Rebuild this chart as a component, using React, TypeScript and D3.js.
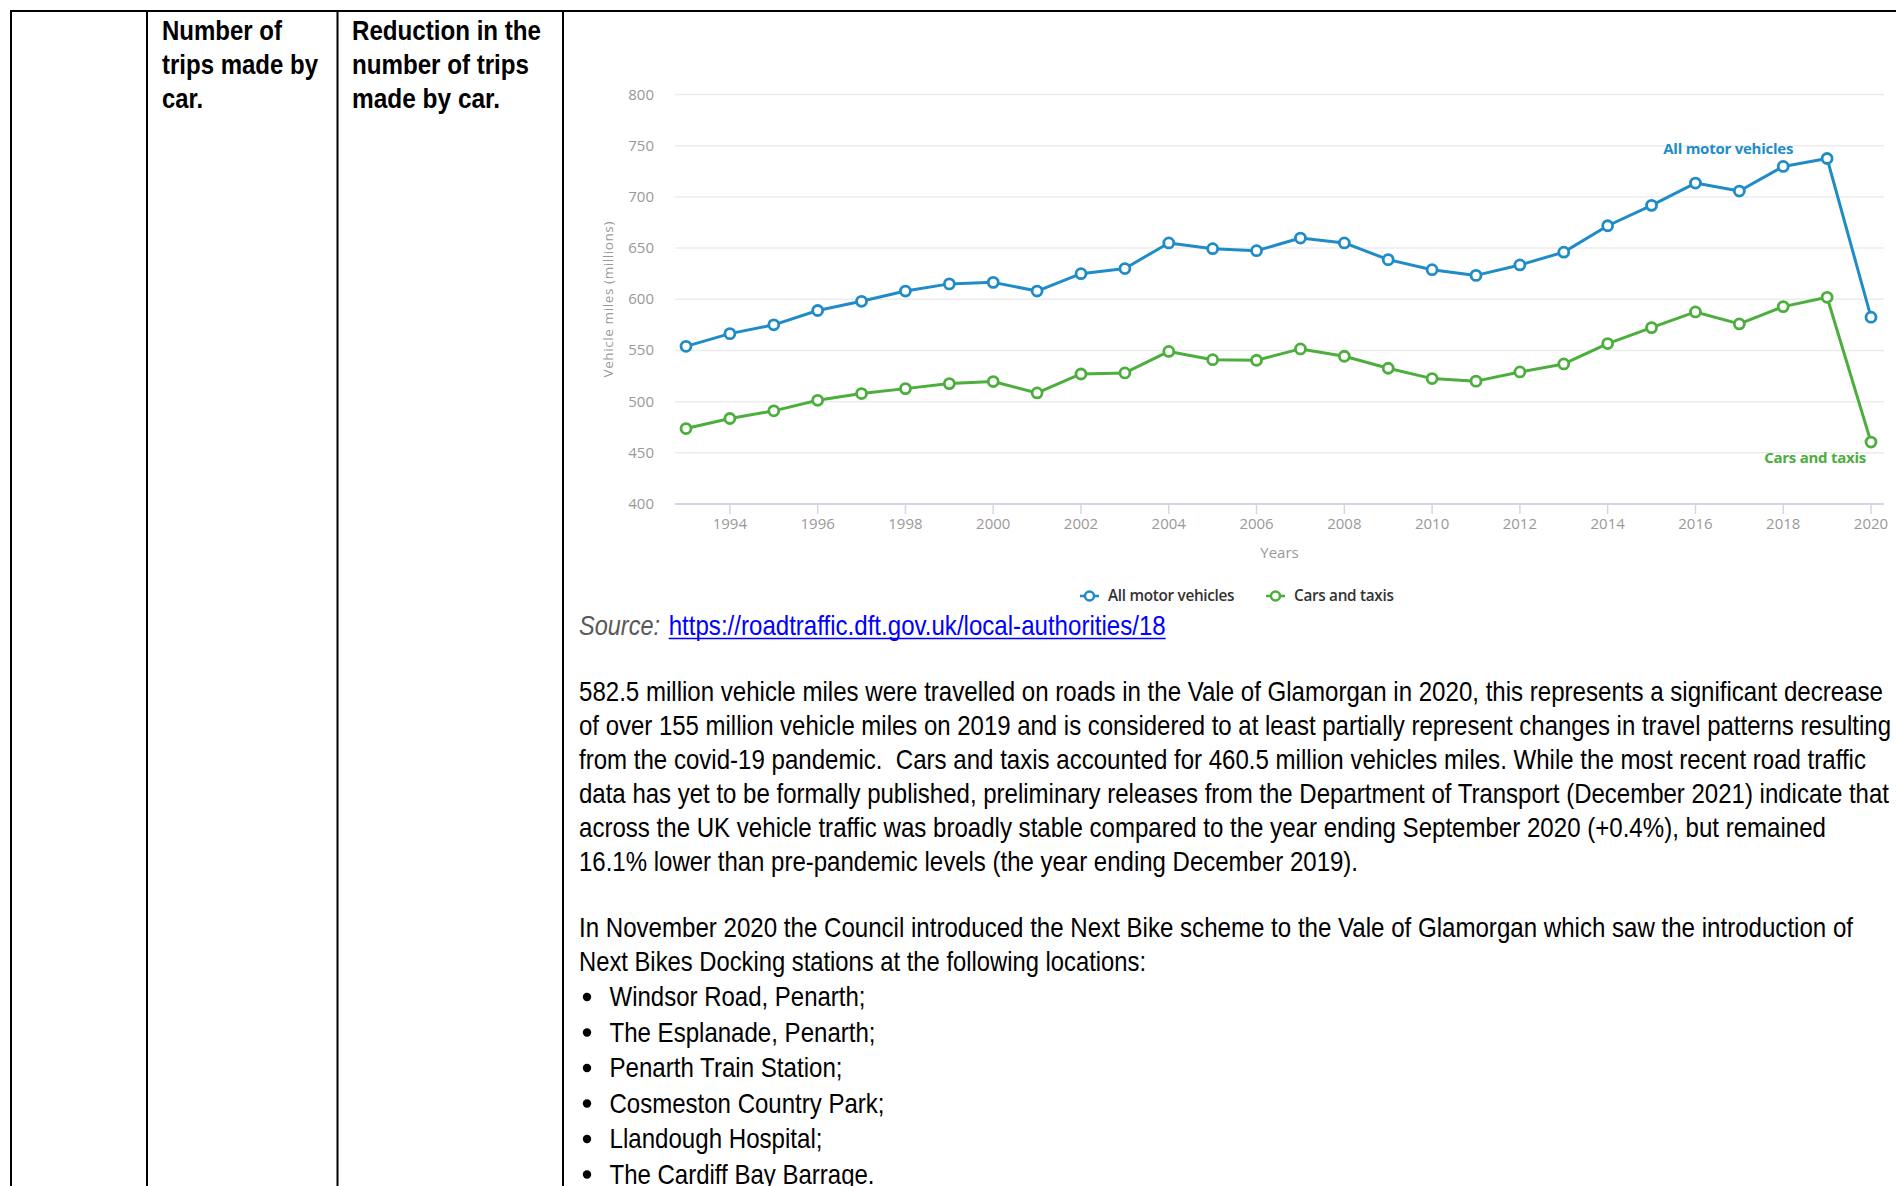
import React from 'react';
import * as d3 from 'd3';

// chart data (Vale of Glamorgan)
const years = [1993, 1994, 1995, 1996, 1997, 1998, 1999, 2000, 2001, 2002, 2003, 2004, 2005, 2006,
  2007, 2008, 2009, 2010, 2011, 2012, 2013, 2014, 2015, 2016, 2017, 2018, 2019, 2020];
const allMotorVehicles = [554, 566.4, 575, 589, 598, 608, 615, 616.5, 608, 625, 630, 655, 649.4, 647.4,
  659.8, 655, 638.7, 628.9, 623.3, 633.5, 646, 671.8, 691.7, 713.5, 705.7, 729.7, 737.5, 582.5];
const carsAndTaxis = [473.7, 483.5, 491, 501.3, 507.9, 512.7, 517.6, 519.6, 508.5, 527, 528, 549, 541, 540.4,
  551.5, 544.3, 532.6, 522.5, 520, 529, 536.8, 556.7, 572.3, 587.6, 575.9, 592.8, 601.9, 460.5];
const yTicks = [400, 450, 500, 550, 600, 650, 700, 750, 800];
const xTicks = [1994, 1996, 1998, 2000, 2002, 2004, 2006, 2008, 2010, 2012, 2014, 2016, 2018, 2020];
const seriesNames = ['All motor vehicles', 'Cars and taxis'];
const seriesColors = ['#1f8cc8', '#4cae3c'];

const headerCol2 = ['Number of', 'trips made by', 'car.'];
const headerCol3 = ['Reduction in the', 'number of trips', 'made by car.'];
const para1 = [
  '582.5 million vehicle miles were travelled on roads in the Vale of Glamorgan in 2020, this represents a significant decrease',
  'of over 155 million vehicle miles on 2019 and is considered to at least partially represent changes in travel patterns resulting',
  'from the covid-19 pandemic.  Cars and taxis accounted for 460.5 million vehicles miles. While the most recent road traffic',
  'data has yet to be formally published, preliminary releases from the Department of Transport (December 2021) indicate that',
  'across the UK vehicle traffic was broadly stable compared to the year ending September 2020 (+0.4%), but remained',
  '16.1% lower than pre-pandemic levels (the year ending December 2019).',
];
const para2 = [
  'In November 2020 the Council introduced the Next Bike scheme to the Vale of Glamorgan which saw the introduction of',
  'Next Bikes Docking stations at the following locations:',
];
const bullets = ['Windsor Road, Penarth;', 'The Esplanade, Penarth;', 'Penarth Train Station;',
  'Cosmeston Country Park;', 'Llandough Hospital;', 'The Cardiff Bay Barrage.'];

// measured widths of each text line (px) so the condensed text lines up
const para1Widths = [1304, 1312, 1287, 1310, 1247, 779];
const para2Widths = [1274, 567];
const bulletWidths = [256, 266, 233, 275, 213, 265];
const headerCol2Widths = [120, 156, 41];
const headerCol3Widths = [189, 177, 148];

const W = 1896;
const H = 1186;
const sans = "'Liberation Sans', Arial, sans-serif";
const chartFont = "'Open Sans', 'Noto Sans', sans-serif";
const SQUEEZE = 0.82; // Arial Narrow look, from a regular sans squeezed horizontally

function NarrowText(props: { x: number; y: number; w: number; children: React.ReactNode; [k: string]: any }) {
  const { x, y, w, children, ...rest } = props;
  return (
    <text transform={`translate(${x},${y}) scale(${SQUEEZE},1)`} textLength={w / SQUEEZE}
      lengthAdjust="spacingAndGlyphs" style={{ whiteSpace: 'pre' }} {...rest}>{children}</text>
  );
}

export default function App() {
  const x = d3.scaleLinear().domain([1993, 2020]).range([686, 1871]);
  const y = d3.scaleLinear().domain([400, 800]).range([504, 94.5]);
  const plotLeft = 675;
  const plotRight = 1884;

  const series = [allMotorVehicles, carsAndTaxis];
  const line = d3.line<number>()
    .x((_, i) => x(years[i]))
    .y(d => y(d));

  const bodyX = 579;
  const lineStep = 33.9;

  return (
    <div style={{ position: 'absolute', left: 0, top: 0, width: W, height: H, overflow: 'hidden', background: '#fff' }}>
      <svg width={W} height={H} viewBox={`0 0 ${W} ${H}`} style={{ display: 'block' }}>
        {/* table borders */}
        <line x1={10} x2={W} y1={11} y2={11} stroke="#000" strokeWidth={2} />
        {[11, 147, 337.5, 563].map(v => (
          <line key={v} x1={v} x2={v} y1={10} y2={H} stroke="#000" strokeWidth={2} />
        ))}

        {/* header cells */}
        <g fontFamily={sans} fontWeight="bold" fontSize={28} fill="#000">
          {headerCol2.map((t, i) => (
            <NarrowText key={t} x={162} y={40 + i * lineStep} w={headerCol2Widths[i]}>{t}</NarrowText>
          ))}
          {headerCol3.map((t, i) => (
            <NarrowText key={t} x={352} y={40 + i * lineStep} w={headerCol3Widths[i]}>{t}</NarrowText>
          ))}
        </g>

        {/* chart */}
        <g fontFamily={chartFont}>
          {yTicks.filter(v => v > 400).map(v => (
            <line key={v} x1={plotLeft} x2={plotRight} y1={y(v)} y2={y(v)} stroke="#ececec" strokeWidth={1.5} />
          ))}
          <line x1={plotLeft} x2={plotRight} y1={y(400)} y2={y(400)} stroke="#d3d6ea" strokeWidth={2} />
          {xTicks.map(v => (
            <line key={v} x1={x(v)} x2={x(v)} y1={y(400)} y2={y(400) + 10} stroke="#d3d6ea" strokeWidth={1.5} />
          ))}
          {yTicks.map(v => (
            <text key={v} x={654} y={y(v) + 5} textAnchor="end" fontSize={15} fill="#999">{v}</text>
          ))}
          {xTicks.map(v => (
            <text key={v} x={x(v)} y={529} textAnchor="middle" fontSize={15} fill="#999">{v}</text>
          ))}
          <text x={(plotLeft + plotRight) / 2} y={557.5} textAnchor="middle" fontSize={15} fill="#999">Years</text>
          <g transform={`translate(608,${(y(400) + y(800)) / 2}) rotate(-90)`}>
            <text textAnchor="middle" dominantBaseline="central" fontSize={13.5} fill="#999" letterSpacing={0.6}>
              Vehicle miles (millions)
            </text>
          </g>

          {series.map((s, k) => (
            <g key={k}>
              <path d={line(s) || ''} fill="none" stroke={seriesColors[k]} strokeWidth={3} strokeLinejoin="round" />
              {s.map((v, i) => (
                <circle key={i} cx={x(years[i])} cy={y(v)} r={5} fill="#fff" stroke={seriesColors[k]} strokeWidth={2.8} />
              ))}
            </g>
          ))}

          <text x={x(2019) - 34} y={y(737.5) - 4} textAnchor="end" fontSize={15} fontWeight="bold"
            fill={seriesColors[0]} letterSpacing={-0.25}>{seriesNames[0]}</text>
          <text x={x(2020) - 5} y={y(460.5) + 21} textAnchor="end" fontSize={15} fontWeight="bold"
            fill={seriesColors[1]} letterSpacing={-0.25}>{seriesNames[1]}</text>

          {/* legend */}
          {seriesNames.map((name, k) => {
            const lx = [1080, 1266][k];
            return (
              <g key={name}>
                <line x1={lx} x2={lx + 19} y1={596} y2={596} stroke={seriesColors[k]} strokeWidth={2.6} />
                <circle cx={lx + 9.5} cy={596} r={4.5} fill="#fff" stroke={seriesColors[k]} strokeWidth={2.5} />
                <text x={lx + 28} y={601} fontSize={15.3} fontWeight={600} fill="#333" letterSpacing={-0.3}>{name}</text>
              </g>
            );
          })}
        </g>

        {/* source */}
        <g fontFamily={sans} fontSize={28}>
          <NarrowText x={bodyX} y={635} w={81} fill="#595959" fontStyle="italic">Source:</NarrowText>
          <NarrowText x={668.7} y={635} w={497} fill="#0000ff">https://roadtraffic.dft.gov.uk/local-authorities/18</NarrowText>
          <line x1={668.7} x2={1165.7} y1={638.5} y2={638.5} stroke="#0000ff" strokeWidth={1.6} />
        </g>

        {/* body text */}
        <g fontFamily={sans} fontSize={28} fill="#000">
          {para1.map((t, i) => (
            <NarrowText key={i} x={bodyX} y={701 + i * lineStep} w={para1Widths[i]}>{t}</NarrowText>
          ))}
          {para2.map((t, i) => (
            <NarrowText key={i} x={bodyX} y={937 + i * lineStep} w={para2Widths[i]}>{t}</NarrowText>
          ))}
          {bullets.map((t, i) => (
            <g key={t}>
              <circle cx={587} cy={997 + i * 35.5} r={4.2} fill="#000" />
              <NarrowText x={609.5} y={1006 + i * 35.5} w={bulletWidths[i]}>{t}</NarrowText>
            </g>
          ))}
        </g>
      </svg>
    </div>
  );
}
